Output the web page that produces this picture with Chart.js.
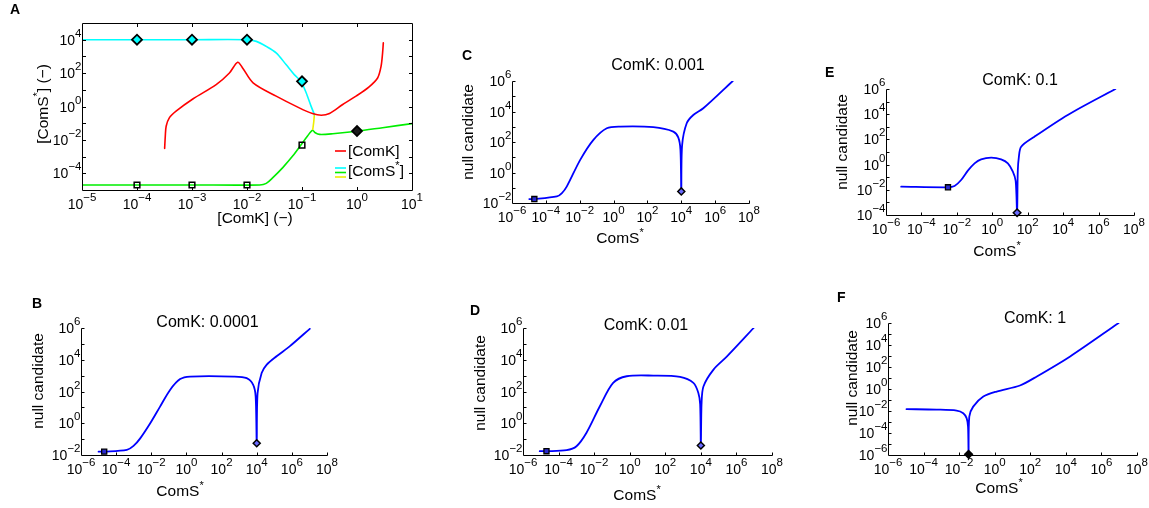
<!DOCTYPE html>
<html>
<head>
<meta charset="utf-8">
<title>ComK / ComS* null candidate panels</title>
<script src="https://cdn.jsdelivr.net/npm/chart.js@4.4.1/dist/chart.umd.min.js"></script>
<style>
  html, body { margin:0; padding:0; background:#ffffff; }
  #wrap { position:relative; width:1149px; height:508px; overflow:hidden; background:#fff; }
  #wrap canvas { position:absolute; left:0; top:0; }
</style>
</head>
<body>
<div id="wrap"></div>
<script>
// ================= DATA =================
// Panel titles (ComK values of panels B..F)
const comkValues = ['0.0001', '0.001', '0.01', '0.1', '1'];

// ---- Panel A : bifurcation diagram ----
const aRedX = [3.18e-4, 3.27e-4, 3.39e-4, 3.89e-4, 5.13e-4, 1.05e-3, 2.75e-3, 4.79e-3, 6.76e-3, 8.32e-3, 1.29e-2, 3.39e-2, 8.91e-2, 0.155, 0.224, 0.316, 0.55, 0.96, 1.66, 2.37, 2.74, 2.92, 3.01];
const aRedY = [3.1e-3, 1.7e-2, 6.6e-2, 0.214, 0.525, 2.9, 20.4, 102, 447, 204, 26.3, 4.17, 0.83, 0.38, 0.30, 0.38, 1.32, 4.17, 15.1, 51, 257, 1620, 6460];

const aCyanX = [1e-5, 1e-4, 1e-3, 9.66e-3, 1.48e-2, 2.24e-2, 3.39e-2, 5.13e-2, 7.24e-2, 9.55e-2, 0.119, 0.146, 0.168];
const aCyanY = [1e4, 1e4, 1e4, 1e4, 7940, 3980, 1620, 324, 81, 32, 6.6, 1.05, 0.33];

const aYellowX = [0.168, 0.163, 0.157];
const aYellowY = [0.33, 0.107, 0.043];

const aGreenX = [1e-5, 1e-4, 1e-3, 1.7e-2, 2.24e-2, 2.95e-2, 4.47e-2, 6.76e-2, 9.55e-2, 0.126, 0.155, 0.174, 0.209, 0.363, 1.0, 2.92, 10];
const aGreenY = [2e-5, 2e-5, 2e-5, 2e-5, 2.5e-5, 5.5e-5, 2.19e-4, 1.07e-3, 4.9e-3, 1.7e-2, 3.8e-2, 2.7e-2, 2.14e-2, 2.34e-2, 3.3e-2, 5.4e-2, 9.5e-2];

const aDiamondX = [1e-4, 1e-3, 1e-2, 0.1, 1];
const aDiamondY = [1e4, 1e4, 1e4, 32, 3.4e-2];
const aSquareX = [1e-4, 1e-3, 1e-2, 0.1];
const aSquareY = [2e-5, 2e-5, 2e-5, 4.9e-3];

// ---- Panel B : ComK 0.0001 ----
const bX = [1e-5, 2.09e-5, 4.07e-4, 9.77e-4, 2.34e-3, 8.71e-3, 3.16e-2, 0.117, 0.437, 1.62, 468, 2690, 6310, 8710, 1e4, 1.12e4, 1.91e4, 3.63e4, 1.35e5, 7.76e5, 1.05e7];
const bY = [1.62e-2, 1.62e-2, 2.09e-2, 3.72e-2, 0.112, 1.0, 11.2, 126, 603, 871, 871, 692, 263, 47.9, 5.5e-2, 79.4, 1450, 4790, 1.66e4, 7.2e4, 8.9e5];
const bSquareX = [2.09e-5], bSquareY = [1.62e-2];
const bDiamondX = [1e4], bDiamondY = [5.5e-2];

// ---- Panel C : ComK 0.001 ----
const cX = [1.05e-5, 2.09e-5, 4.47e-4, 8.9e-4, 1.74e-3, 1.07e-2, 6.46e-2, 0.398, 2.45, 224, 3390, 6610, 8910, 1e4, 1.12e4, 2.09e4, 5.13e4, 2e5, 1.1e7];
const cY = [1.82e-2, 1.82e-2, 2.69e-2, 4.47e-2, 0.123, 6.76, 138, 794, 1020, 933, 479, 200, 31.6, 5.75e-2, 63, 1700, 5890, 1.62e4, 1e6];
const cSquareX = [2.09e-5], cSquareY = [1.82e-2];
const cDiamondX = [1e4], cDiamondY = [5.75e-2];

// ---- Panel D : ComK 0.01 ----
const dX = [8.7e-6, 2.09e-5, 2.82e-4, 1.02e-3, 3.72e-3, 2.09e-2, 0.117, 0.676, 21.4, 676, 3800, 7240, 9120, 1e4, 1.1e4, 1.41e4, 5.13e4, 2.95e5, 9.3e6];
const dY = [1.74e-2, 1.74e-2, 2.0e-2, 3.55e-2, 0.251, 11.7, 347, 912, 1000, 832, 347, 81, 15.8, 3.98e-2, 20, 214, 2400, 1.62e4, 1e6];
const dSquareX = [2.09e-5], dSquareY = [1.74e-2];
const dDiamondX = [1e4], dDiamondY = [3.98e-2];

// ---- Panel E : ComK 0.1 ----
const eX = [7.2e-6, 3.16e-3, 7.4e-3, 1.74e-2, 4.17e-2, 0.1, 0.234, 0.871, 3.16, 7.59, 14.5, 20.9, 25.1, 27.5, 31.6, 42.7, 240, 1.82e4, 8.9e6];
const eY = [1.78e-2, 1.58e-2, 2.0e-2, 6.0e-2, 0.331, 1.26, 2.63, 3.55, 2.63, 1.26, 0.275, 5.0e-2, 1.51e-4, 0.316, 3.98, 26.3, 162, 8710, 1e6];
const eSquareX = [3.16e-3], eSquareY = [1.58e-2];
const eDiamondX = [25.1], eDiamondY = [1.51e-4];

// ---- Panel F : ComK 1 ----
const fX = [1.1e-5, 5.37e-4, 7.24e-3, 1.7e-2, 2.63e-2, 3.16e-2, 3.39e-2, 3.72e-2, 6.17e-2, 0.229, 1.29, 26.3, 234, 1.74e4, 9.3e6];
const fY = [1.48e-2, 1.35e-2, 1.1e-2, 6.3e-3, 2.24e-3, 3.8e-4, 1.15e-6, 3.1e-3, 2.5e-2, 0.204, 0.589, 2.09, 13.8, 912, 1e6];
const fDiamondX = [3.39e-2], fDiamondY = [1.15e-6];

// ---- Tick exponents (labels are 10^n) ----
const aXTickExp = [-4, -3, -2, -1, 0];
const aXLabelExp = [-5, -4, -3, -2, -1, 0, 1];
const aYTickExp = [-4, -3, -2, -1, 0, 1, 2, 3, 4];
const aYLabelExp = [-4, -2, 0, 2, 4];
const nXTickExp = [-4, -2, 0, 2, 4, 6, 8];
const nXLabelExp = [-6, -4, -2, 0, 2, 4, 6, 8];
const bcdYTickExp = [-1, 0, 1, 2, 3, 4, 5, 6];
const bcdYLabelExp = [-2, 0, 2, 4, 6];
const eYTickExp = [-3, -2, -1, 0, 1, 2, 3, 4, 5, 6];
const eYLabelExp = [-4, -2, 0, 2, 4, 6];
const fYTickExp = [-5, -4, -3, -2, -1, 0, 1, 2, 3, 4, 5, 6];
const fYLabelExp = [-6, -4, -2, 0, 2, 4, 6];

// ================= DRAWING HELPERS =================
const W = 1149, H = 508;
const FAM = "'Liberation Sans', Arial, Helvetica, sans-serif";
const F_TICK = "14px " + FAM, F_EXP = "11.5px " + FAM;
const F_LAB = "15.5px " + FAM, F_SUP = "11px " + FAM;
const F_TTL = "16px " + FAM, F_LET = "bold 14px " + FAM;

function expStr(e) { return e < 0 ? '\u2212' + (-e) : String(e); }
function tickRuns(e) { return [{t: '10', f: F_TICK}, {t: expStr(e), f: F_EXP, dy: -8}]; }
function starRuns(pre, post) { return [{t: pre, f: F_LAB}, {t: '*', f: F_SUP, dy: -7}, {t: post, f: F_LAB}]; }
function drawRuns(ctx, runs, x, y, align) {
  let w = 0;
  for (const r of runs) { ctx.font = r.f; w += ctx.measureText(r.t).width; }
  let cx = align === 'center' ? x - w / 2 : (align === 'right' ? x - w : x);
  ctx.textAlign = 'left'; ctx.textBaseline = 'alphabetic';
  for (const r of runs) { ctx.font = r.f; ctx.fillText(r.t, cx, y + (r.dy || 0)); cx += ctx.measureText(r.t).width; }
}

function decoPlugin(P) {
  return {
    id: 'deco' + P.id,
    afterDraw(chart) {
      const ctx = chart.ctx, xs = chart.scales.x, ys = chart.scales.y, a = chart.chartArea;
      const L = Math.round(a.left) + 0.5, R = Math.round(a.right) + 0.5;
      const T = Math.round(a.top) + 0.5, B = Math.round(a.bottom) + 0.5;
      ctx.save();
      ctx.strokeStyle = '#000'; ctx.fillStyle = '#000'; ctx.lineWidth = 1;
      ctx.beginPath();
      if (P.frame) { ctx.rect(L, T, R - L, B - T); }
      else { ctx.moveTo(L, T); ctx.lineTo(L, B); ctx.lineTo(R, B); }
      const tl = P.tickLen;
      for (const e of P.xTicks) {
        const px = Math.round(xs.getPixelForValue(Math.pow(10, e))) + 0.5;
        ctx.moveTo(px, B); ctx.lineTo(px, B - tl);
        if (P.frame) { ctx.moveTo(px, T); ctx.lineTo(px, T + tl); }
      }
      for (const e of P.yTicks) {
        const py = Math.round(ys.getPixelForValue(Math.pow(10, e))) + 0.5;
        ctx.moveTo(L, py); ctx.lineTo(L + tl, py);
        if (P.frame) { ctx.moveTo(R, py); ctx.lineTo(R - tl, py); }
      }
      ctx.stroke();
      for (const e of P.xLabels) drawRuns(ctx, tickRuns(e), xs.getPixelForValue(Math.pow(10, e)), B + 18, 'center');
      for (const e of P.yLabels) drawRuns(ctx, tickRuns(e), L - 1, ys.getPixelForValue(Math.pow(10, e)) + 5, 'right');
      drawRuns(ctx, P.xTitle.runs, P.xTitle.x, P.xTitle.y, 'center');
      ctx.save();
      ctx.translate(P.yTitle.x, P.yTitle.y); ctx.rotate(-Math.PI / 2);
      drawRuns(ctx, P.yTitle.runs, 0, 5.5, 'center');
      ctx.restore();
      if (P.title) { drawRuns(ctx, [{t: P.title.t, f: F_TTL}], P.title.x, P.title.y, 'center'); }
      drawRuns(ctx, [{t: P.id, f: F_LET}], P.letter[0], P.letter[1], 'left');
      if (P.legend) P.legend(ctx);
      ctx.restore();
    }
  };
}

function pts(xs, ys) { return xs.map((x, i) => ({x: x, y: ys[i]})); }
function curve(xs, ys, color, w) {
  return {data: pts(xs, ys), borderColor: color, borderWidth: w, pointRadius: 0, fill: false,
          tension: 0.3, borderJoinStyle: 'round', borderCapStyle: 'round'};
}
function marks(xs, ys, style, r, fill, bw) {
  return {data: pts(xs, ys), showLine: false, pointStyle: style, pointRadius: r,
          pointBackgroundColor: fill, pointBorderColor: '#000', pointBorderWidth: bw, clip: false};
}

function makeChart(P, datasets) {
  const cv = document.createElement('canvas');
  cv.width = W; cv.height = H; cv.style.width = W + 'px'; cv.style.height = H + 'px';
  document.getElementById('wrap').appendChild(cv);
  return new Chart(cv.getContext('2d'), {
    type: 'line',
    data: {datasets: datasets},
    options: {
      responsive: false, animation: false, devicePixelRatio: 1, events: [],
      layout: {padding: {left: P.box[0], top: P.box[1], right: W - P.box[2], bottom: H - P.box[3]}},
      plugins: {legend: {display: false}, title: {display: false}, tooltip: {enabled: false}},
      scales: {
        x: {type: 'logarithmic', min: P.xr[0], max: P.xr[1], display: false},
        y: {type: 'logarithmic', min: P.yr[0], max: P.yr[1], display: false}
      }
    },
    plugins: [decoPlugin(P)]
  });
}

const BLUE = '#0000ff';
const nullRuns = [{t: 'null candidate', f: F_LAB}];
const comsRuns = starRuns('ComS', '');

// ================= PANEL A =================
makeChart({
  id: 'A', box: [82, 23, 412, 190], xr: [1e-5, 10], yr: [1e-5, 1e5], frame: true, tickLen: 3.5,
  xTicks: aXTickExp, xLabels: aXLabelExp, yTicks: aYTickExp, yLabels: aYLabelExp,
  xTitle: {runs: [{t: '[ComK] (\u2212)', f: F_LAB}], x: 255, y: 223},
  yTitle: {runs: starRuns('[ComS', '] (\u2212)'), x: 42.5, y: 104},
  letter: [10, 14],
  legend(ctx) {
    ctx.lineWidth = 1.6;
    const seg = (c, y) => { ctx.strokeStyle = c; ctx.beginPath(); ctx.moveTo(335, y); ctx.lineTo(346, y); ctx.stroke(); };
    seg('#ff0000', 151);
    seg('#00ffff', 168); seg('#00ee00', 172.5); seg('#eeee00', 177);
    ctx.fillStyle = '#000';
    drawRuns(ctx, [{t: '[ComK]', f: F_LAB}], 348, 156, 'left');
    drawRuns(ctx, starRuns('[ComS', ']'), 348, 176, 'left');
  }
}, [
  marks(aDiamondX, aDiamondY, 'rectRot', 5, ['#00ffff', '#00ffff', '#00ffff', '#00ffff', '#1a1a1a'], 1.8),
  marks(aSquareX, aSquareY, 'rect', 4, 'rgba(0,0,0,0)', 1.5),
  curve(aRedX, aRedY, '#ff0000', 1.6),
  curve(aCyanX, aCyanY, '#00ffff', 1.6),
  curve(aYellowX, aYellowY, '#eeee00', 1.6),
  curve(aGreenX, aGreenY, '#00ee00', 1.6)
]);

// ================= PANELS B..F =================
const sqFill = '#2a2ad0', diaFill = '#6a6aff';
makeChart({
  id: 'B', box: [81, 328, 327, 455], xr: [1e-6, 1e8], yr: [1e-2, 1e6], frame: false, tickLen: 3,
  xTicks: nXTickExp, xLabels: nXLabelExp, yTicks: bcdYTickExp, yLabels: bcdYLabelExp,
  xTitle: {runs: comsRuns, x: 180, y: 496}, yTitle: {runs: nullRuns, x: 37.5, y: 381},
  title: {t: 'ComK: ' + comkValues[0], x: 207.5, y: 326.5}, letter: [32, 308]
}, [
  marks(bDiamondX, bDiamondY, 'rectRot', 3.5, diaFill, 1.5),
  marks(bSquareX, bSquareY, 'rect', 3.6, sqFill, 1.3),
  curve(bX, bY, BLUE, 1.8)
]);

makeChart({
  id: 'C', box: [512, 81, 749, 203], xr: [1e-6, 1e8], yr: [1e-2, 1e6], frame: false, tickLen: 3,
  xTicks: nXTickExp, xLabels: nXLabelExp, yTicks: bcdYTickExp, yLabels: bcdYLabelExp,
  xTitle: {runs: comsRuns, x: 620, y: 243}, yTitle: {runs: nullRuns, x: 467.5, y: 132},
  title: {t: 'ComK: ' + comkValues[1], x: 658, y: 70}, letter: [462, 60]
}, [
  marks(cDiamondX, cDiamondY, 'rectRot', 3.5, diaFill, 1.5),
  marks(cSquareX, cSquareY, 'rect', 3.6, sqFill, 1.3),
  curve(cX, cY, BLUE, 1.8)
]);

makeChart({
  id: 'D', box: [523, 328, 772, 455], xr: [1e-6, 1e8], yr: [1e-2, 1e6], frame: false, tickLen: 3,
  xTicks: nXTickExp, xLabels: nXLabelExp, yTicks: bcdYTickExp, yLabels: bcdYLabelExp,
  xTitle: {runs: comsRuns, x: 637, y: 500}, yTitle: {runs: nullRuns, x: 479, y: 383},
  title: {t: 'ComK: ' + comkValues[2], x: 646, y: 330}, letter: [470, 315]
}, [
  marks(dDiamondX, dDiamondY, 'rectRot', 3.5, diaFill, 1.5),
  marks(dSquareX, dSquareY, 'rect', 3.6, sqFill, 1.3),
  curve(dX, dY, BLUE, 1.8)
]);

makeChart({
  id: 'E', box: [886, 89, 1134, 215], xr: [1e-6, 1e8], yr: [1e-4, 1e6], frame: false, tickLen: 3,
  xTicks: nXTickExp, xLabels: nXLabelExp, yTicks: eYTickExp, yLabels: eYLabelExp,
  xTitle: {runs: comsRuns, x: 997, y: 256}, yTitle: {runs: nullRuns, x: 841, y: 142},
  title: {t: 'ComK: ' + comkValues[3], x: 1020, y: 85}, letter: [825, 77]
}, [
  marks(eDiamondX, eDiamondY, 'rectRot', 3.8, diaFill, 1.5),
  marks(eSquareX, eSquareY, 'rect', 3.6, sqFill, 1.3),
  curve(eX, eY, BLUE, 1.8)
]);

makeChart({
  id: 'F', box: [888, 323, 1137, 455], xr: [1e-6, 1e8], yr: [1e-6, 1e6], frame: false, tickLen: 3,
  xTicks: nXTickExp, xLabels: nXLabelExp, yTicks: fYTickExp, yLabels: fYLabelExp,
  xTitle: {runs: comsRuns, x: 999, y: 493}, yTitle: {runs: nullRuns, x: 851, y: 378},
  title: {t: 'ComK: ' + comkValues[4], x: 1035, y: 323}, letter: [837, 302]
}, [
  marks(fDiamondX, fDiamondY, 'rectRot', 3.8, '#000000', 1.5),
  curve(fX, fY, BLUE, 1.8)
]);
</script>
</body>
</html>
